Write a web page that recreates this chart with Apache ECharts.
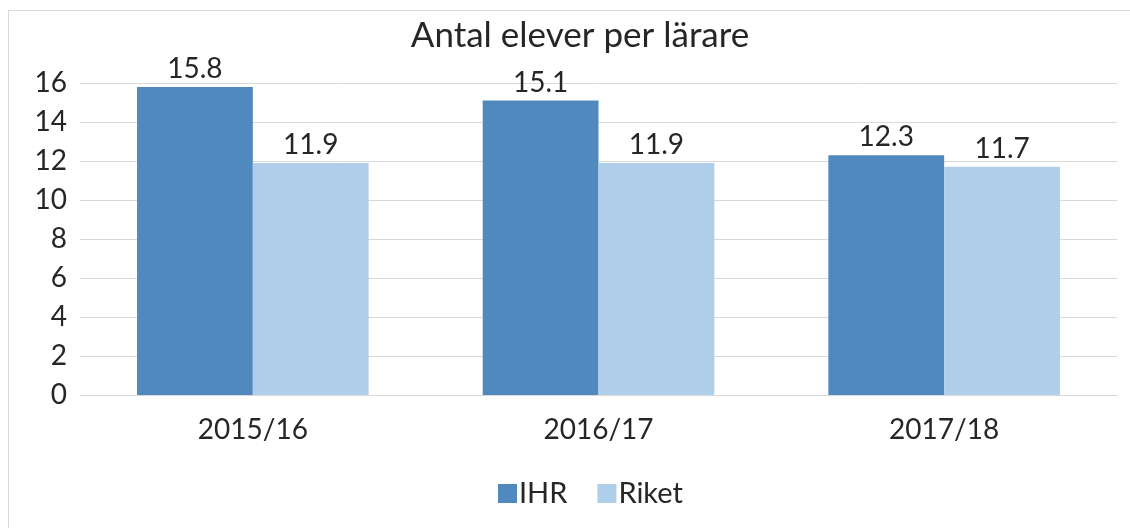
<!DOCTYPE html>
<html>
<head>
<meta charset="utf-8">
<script src="https://cdn.jsdelivr.net/npm/echarts@6/dist/echarts.min.js"></script>
<style>
  html, body { margin: 0; padding: 0; background: #fff; }
  #chart { width: 1130px; height: 528px; }
  #frame {
    position: absolute; left: 8px; top: 10px; width: 1140px; height: 540px;
    border: 1px solid #d9d9d9; pointer-events: none;
  }
</style>
</head>
<body>
<div id="chart"></div>
<div id="frame"></div>
<script>
const categories = ['2015/16', '2016/17', '2017/18']
const ihrValues = [15.8, 15.1, 12.3]
const riketValues = [11.9, 11.9, 11.7]
const yTicks = { min: 0, max: 16, interval: 2 }

const font = 'Lato'
const textColor = '#262626'

let chart = echarts.init(document.getElementById('chart'))
chart.setOption({
  animation: false,
  title: {
    text: 'Antal elever per lärare',
    left: 575,
    top: 13,
    textAlign: 'center',
    textStyle: { fontFamily: font, fontSize: 35, fontWeight: 'normal', color: textColor },
  },
  grid: { left: 80, right: 13, top: 83, bottom: 133 },
  legend: {
    bottom: 15,
    left: 493,
    itemWidth: 19,
    itemHeight: 19,
    itemGap: 30,
    icon: 'rect',
    textStyle: { fontFamily: font, fontSize: 29, color: textColor, padding: [0, 0, 0, -3] },
    data: ['IHR', 'Riket'],
  },
  xAxis: {
    type: 'category',
    data: categories,
    axisTick: { show: false },
    axisLine: { lineStyle: { color: '#d9d9d9', width: 1 } },
    axisLabel: { fontFamily: font, fontSize: 28, color: textColor, margin: 21 },
  },
  yAxis: {
    type: 'value',
    min: yTicks.min,
    max: yTicks.max,
    interval: yTicks.interval,
    axisLine: { show: false },
    axisTick: { show: false },
    splitLine: { lineStyle: { color: '#d9d9d9', width: 1 } },
    axisLabel: { fontFamily: font, fontSize: 28, color: textColor, margin: 13 },
  },
  series: [
    {
      name: 'IHR',
      type: 'bar',
      data: ihrValues,
      barGap: '0%',
      barCategoryGap: '33%',
      itemStyle: { color: '#4f89bd' },
      label: { show: true, position: 'top', distance: 4, fontFamily: font, fontSize: 28, color: textColor },
    },
    {
      name: 'Riket',
      type: 'bar',
      data: riketValues,
      barGap: '0%',
      barCategoryGap: '33%',
      itemStyle: { color: '#afceea' },
      label: { show: true, position: 'top', distance: 4, fontFamily: font, fontSize: 28, color: textColor },
    },
  ],
})
</script>
</body>
</html>
